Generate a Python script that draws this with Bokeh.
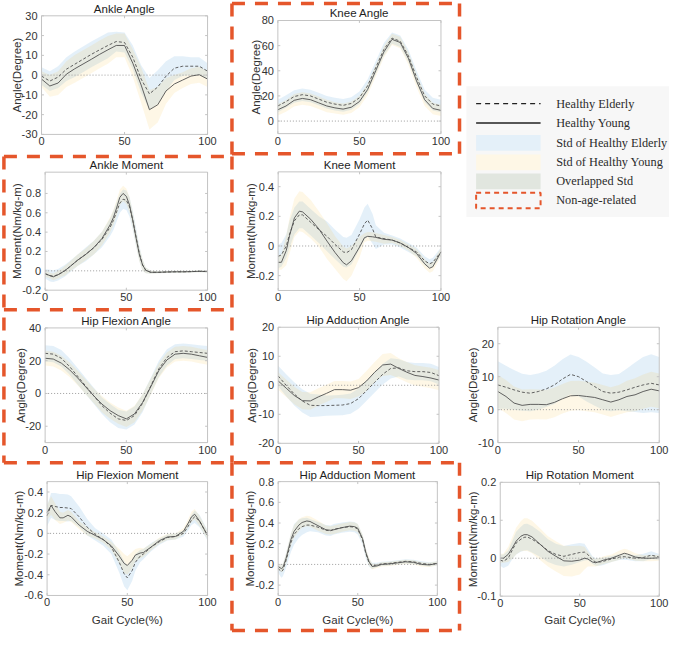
import math
import numpy as np
from bokeh.plotting import figure
from bokeh.models import Range1d
from bokeh.embed import file_html
from bokeh.resources import INLINE
from bokeh.core.properties import value

# ---------------------------------------------------------------- data
X21 = [0, 5, 10, 15, 20, 25, 30, 35, 40, 45, 50, 55, 60, 65, 70, 75, 80, 85, 90, 95, 100]
XTICKS = [0, 50, 100]

# Ankle Angle
AA_X = X21
AA_YOUNG = [-2, -5.5, -4, 0.5, 3.2, 5.6, 8, 10.5, 12.8, 15, 15, 6, -5, -17.5, -15, -8, -4.5, -2.5, -0.5, 0.2, -2]
AA_ELDER = [-0.5, -3, -1, 3, 5.5, 8, 10.5, 12.8, 15, 17, 16.5, 9, -2, -9.5, -6, -0.5, 3.5, 4.5, 4.5, 4.5, 2]
AA_SD_E = [4.5, 5, 5.5, 6, 6.5, 6.5, 6.5, 6.5, 6.5, 5, 5, 6, 7, 8, 8.5, 7.5, 6, 5, 4.5, 4.5, 4]
AA_SD_Y = [4, 5.5, 6, 6.5, 7, 7, 7, 7, 7, 6, 6, 7, 9, 10, 9, 6.5, 4.5, 4, 4, 4, 4]

# Knee Angle
KA_X = X21
KA_YOUNG = [9, 12, 16.5, 18, 17, 14.5, 12, 10.5, 9.5, 11, 15.5, 25, 40, 55, 65, 62.5, 50, 32, 17, 10, 8.5]
KA_ELDER = [12, 15.5, 19.5, 21, 20, 17.5, 15, 13.5, 12.5, 14, 18.5, 28, 42.5, 57, 66, 63.5, 52, 35, 20, 13.5, 12]
KA_SD_E = [5, 5, 5, 5, 5, 5, 5, 5, 5, 5, 5, 5, 5, 5, 4.5, 4.5, 5, 5, 5, 5, 5]
KA_SD_Y = [4.5, 4.5, 5, 5, 5, 5, 5, 4.5, 4.5, 4.5, 4.5, 4.5, 4.5, 4.5, 4.5, 4.5, 5, 5, 5, 4.5, 4.5]

# Ankle Moment
AM_X = [0, 3, 5, 8, 10, 12, 15, 20, 25, 30, 35, 40, 42, 44, 46, 48, 50, 52, 54, 56, 58, 60, 62, 65, 70, 75, 80, 85, 90, 95, 100]
AM_YOUNG = [-0.03, -0.05, -0.062, -0.04, -0.02, 0.0, 0.04, 0.11, 0.17, 0.24, 0.335, 0.475, 0.55, 0.65, 0.76, 0.8, 0.77, 0.68, 0.52, 0.34, 0.17, 0.06, 0.005, -0.015, -0.015, -0.012, -0.01, -0.01, -0.008, -0.005, -0.008]
AM_ELDER = [-0.03, -0.05, -0.055, -0.04, -0.02, 0.0, 0.04, 0.11, 0.17, 0.24, 0.325, 0.45, 0.52, 0.61, 0.7, 0.74, 0.73, 0.66, 0.52, 0.35, 0.18, 0.06, 0.005, -0.015, -0.015, -0.012, -0.01, -0.01, -0.008, -0.005, -0.008]
AM_SD_E = [0.05, 0.06, 0.06, 0.06, 0.06, 0.06, 0.06, 0.06, 0.07, 0.07, 0.08, 0.09, 0.1, 0.1, 0.1, 0.1, 0.1, 0.1, 0.1, 0.1, 0.08, 0.06, 0.03, 0.015, 0.01, 0.01, 0.01, 0.01, 0.01, 0.01, 0.01]
AM_SD_Y = [0.03, 0.03, 0.035, 0.04, 0.04, 0.05, 0.05, 0.06, 0.06, 0.07, 0.07, 0.08, 0.08, 0.08, 0.08, 0.08, 0.08, 0.08, 0.08, 0.08, 0.07, 0.06, 0.03, 0.015, 0.01, 0.01, 0.01, 0.01, 0.01, 0.01, 0.01]

# Knee Moment
KM_X = [0, 2, 5, 7, 10, 13, 15, 20, 25, 30, 35, 40, 42, 45, 50, 53, 55, 58, 60, 65, 70, 75, 80, 85, 90, 93, 95, 100]
KM_YOUNG = [-0.11, -0.11, -0.03, 0.07, 0.19, 0.235, 0.23, 0.18, 0.115, 0.033, -0.045, -0.113, -0.127, -0.1, -0.007, 0.056, 0.065, 0.062, 0.058, 0.045, 0.04, 0.02, -0.01, -0.05, -0.12, -0.15, -0.14, -0.04]
KM_ELDER = [-0.07, -0.06, 0.0, 0.08, 0.17, 0.21, 0.21, 0.16, 0.11, 0.065, 0.01, -0.04, -0.045, -0.025, 0.08, 0.15, 0.175, 0.115, 0.06, 0.05, 0.04, 0.02, -0.01, -0.04, -0.1, -0.12, -0.11, -0.04]
KM_SD_E = [0.08, 0.08, 0.08, 0.09, 0.09, 0.09, 0.09, 0.09, 0.09, 0.1, 0.1, 0.1, 0.1, 0.1, 0.1, 0.11, 0.11, 0.1, 0.08, 0.04, 0.03, 0.03, 0.03, 0.03, 0.03, 0.03, 0.03, 0.03]
KM_SD_Y = [0.05, 0.05, 0.1, 0.12, 0.13, 0.135, 0.135, 0.13, 0.12, 0.12, 0.11, 0.11, 0.11, 0.1, 0.07, 0.03, 0.03, 0.03, 0.03, 0.03, 0.02, 0.02, 0.02, 0.03, 0.03, 0.03, 0.03, 0.03]

# Hip Flexion Angle
HFA_X = X21
HFA_YOUNG = [21.5, 21, 18.5, 14.5, 9.5, 4, -1.5, -6.5, -10.5, -13.5, -15.5, -12.5, -5.5, 4, 14, 20.5, 24, 24.5, 24, 23, 22]
HFA_ELDER = [24.5, 24, 21.5, 16.5, 10.5, 4.5, -1.5, -7.5, -12, -15.5, -16.5, -13.5, -6, 4.5, 15, 22, 25.5, 26, 25.5, 25, 24.5]
HFA_SD_E = [5, 5, 5, 5, 5, 5, 5, 5, 5.5, 5.5, 5.5, 5.5, 5.5, 5, 5, 5, 4.5, 4.5, 4.5, 4.5, 4.5]
HFA_SD_Y = [4.5, 4.5, 4.5, 4.5, 4.5, 4.5, 4.5, 5, 5, 5, 5, 5, 5, 5, 4.5, 4.5, 4.5, 4.5, 4.5, 4.5, 4.5]

# Hip Adduction Angle
HAA_X = X21
HAA_YOUNG = [1.5, -1, -3.5, -5.3, -5.4, -4, -2.8, -1.5, -1.5, -1.7, -0.8, 1.5, 4.5, 7, 7.3, 5.8, 4.5, 3.4, 3, 2.5, 1.8]
HAA_ELDER = [3.2, 0, -3, -5.4, -6.9, -7, -7, -6.9, -6.8, -6.3, -4.6, -1.8, 1, 3.8, 5.8, 6, 5, 4.7, 4.7, 4.4, 3.3]
HAA_SD_E = [3.5, 3.8, 4, 4, 4, 3.8, 3.5, 3.5, 3.5, 3.5, 3.5, 3.5, 3.5, 3.5, 3.5, 3, 3, 3, 3, 3, 3]
HAA_SD_Y = [3, 3, 3, 3, 3, 3, 3, 3, 3, 3, 3, 3.5, 3.5, 3.8, 3.8, 3.5, 3.5, 3.5, 3.5, 3.5, 3.5]

# Hip Rotation Angle
HRA_X = X21
HRA_YOUNG = [5.5, 4, 2, 1.3, 1.6, 1.6, 1.5, 2.2, 3.3, 4.2, 4.3, 4, 3.7, 3, 2.3, 3, 4, 4.5, 5.5, 6.2, 5.7]
HRA_ELDER = [7.5, 6.8, 6, 5.3, 5, 5.5, 6.3, 7.5, 9.3, 10.7, 10, 8.5, 7, 5.5, 5, 5.3, 6, 6.8, 7.5, 8, 7.5]
HRA_SD_E = [7.2, 6.5, 6, 5.6, 5.5, 5.5, 5.5, 5.8, 6, 6, 6, 6, 5.8, 5.5, 5.5, 5.5, 6.5, 7.5, 8.5, 8.8, 8.5]
HRA_SD_Y = [5, 5, 5, 4.8, 4.6, 4.5, 4.5, 4.5, 4.5, 4.5, 4.5, 4.5, 4.5, 4.5, 4.5, 4.5, 4.8, 5, 5.2, 5.3, 5.3]

# Hip Flexion Moment
HFM_X = [0, 2.5, 5, 8, 10, 13, 15, 20, 25, 30, 35, 40, 45, 48, 50, 53, 55, 58, 60, 65, 70, 75, 80, 85, 88, 90, 92, 95, 100]
HFM_YOUNG = [0.2, 0.27, 0.21, 0.15, 0.15, 0.175, 0.16, 0.08, 0.02, -0.02, -0.06, -0.12, -0.22, -0.29, -0.31, -0.26, -0.21, -0.19, -0.185, -0.13, -0.07, -0.035, -0.03, 0.02, 0.1, 0.16, 0.185, 0.12, -0.02]
HFM_ELDER = [0.17, 0.27, 0.26, 0.25, 0.25, 0.245, 0.24, 0.16, 0.06, -0.01, -0.06, -0.13, -0.28, -0.39, -0.43, -0.36, -0.28, -0.22, -0.2, -0.13, -0.08, -0.04, -0.03, 0.0, 0.07, 0.13, 0.16, 0.12, -0.02]
HFM_SD_E = [0.1, 0.12, 0.13, 0.13, 0.13, 0.13, 0.12, 0.1, 0.08, 0.06, 0.06, 0.07, 0.1, 0.12, 0.12, 0.1, 0.08, 0.06, 0.05, 0.04, 0.03, 0.03, 0.03, 0.03, 0.04, 0.05, 0.06, 0.06, 0.05]
HFM_SD_Y = [0.07, 0.09, 0.08, 0.06, 0.05, 0.05, 0.05, 0.04, 0.04, 0.03, 0.03, 0.04, 0.07, 0.09, 0.09, 0.08, 0.06, 0.05, 0.04, 0.03, 0.03, 0.03, 0.03, 0.03, 0.04, 0.05, 0.05, 0.05, 0.04]

# Hip Adduction Moment
HAM_X = [0, 2, 3, 5, 8, 10, 13, 15, 18, 20, 25, 30, 33, 35, 40, 45, 48, 50, 53, 55, 57, 59, 62, 65, 70, 75, 80, 85, 90, 95, 100]
HAM_YOUNG = [-0.02, -0.04, -0.03, 0.06, 0.24, 0.32, 0.38, 0.405, 0.42, 0.415, 0.375, 0.335, 0.33, 0.335, 0.355, 0.37, 0.365, 0.35, 0.25, 0.12, 0.03, -0.02, -0.015, 0.0, 0.005, 0.015, 0.025, 0.02, 0.0, -0.005, 0.01]
HAM_ELDER = [-0.04, -0.07, -0.055, 0.04, 0.21, 0.29, 0.345, 0.365, 0.38, 0.38, 0.36, 0.33, 0.325, 0.34, 0.355, 0.365, 0.36, 0.34, 0.24, 0.11, 0.02, -0.015, -0.005, 0.005, 0.01, 0.02, 0.03, 0.025, 0.01, 0.0, 0.01]
HAM_SD_E = [0.04, 0.06, 0.06, 0.07, 0.09, 0.1, 0.09, 0.08, 0.07, 0.06, 0.05, 0.05, 0.05, 0.05, 0.05, 0.05, 0.05, 0.05, 0.05, 0.05, 0.04, 0.03, 0.02, 0.02, 0.02, 0.02, 0.02, 0.02, 0.02, 0.02, 0.02]
HAM_SD_Y = [0.03, 0.03, 0.04, 0.05, 0.06, 0.06, 0.06, 0.05, 0.05, 0.05, 0.05, 0.04, 0.04, 0.04, 0.04, 0.04, 0.04, 0.04, 0.04, 0.04, 0.04, 0.03, 0.02, 0.02, 0.02, 0.02, 0.02, 0.02, 0.02, 0.02, 0.02]

# Hip Rotation Moment
HRM_X = [0, 2, 5, 8, 10, 13, 15, 17, 20, 25, 30, 35, 40, 45, 50, 53, 55, 58, 60, 63, 65, 70, 75, 78, 80, 85, 90, 95, 100]
HRM_YOUNG = [0.0, 0.0, 0.01, 0.03, 0.045, 0.058, 0.062, 0.062, 0.056, 0.037, 0.018, 0.005, -0.007, -0.008, -0.005, 0.0, -0.002, -0.01, -0.012, -0.008, -0.005, 0.0, 0.008, 0.013, 0.011, 0.003, 0.0, 0.0, 0.001]
HRM_ELDER = [-0.005, -0.008, 0.0, 0.025, 0.04, 0.05, 0.055, 0.056, 0.05, 0.037, 0.02, 0.01, 0.005, 0.01, 0.015, 0.016, 0.01, -0.005, -0.01, -0.01, -0.008, -0.002, 0.003, 0.004, 0.003, 0.0, 0.002, 0.008, 0.003]
HRM_SD_E = [0.015, 0.018, 0.02, 0.025, 0.03, 0.033, 0.035, 0.035, 0.035, 0.033, 0.03, 0.028, 0.027, 0.027, 0.025, 0.022, 0.015, 0.01, 0.01, 0.01, 0.01, 0.008, 0.008, 0.008, 0.008, 0.008, 0.01, 0.01, 0.008]
HRM_SD_Y = [0.012, 0.012, 0.02, 0.03, 0.035, 0.04, 0.043, 0.043, 0.043, 0.042, 0.04, 0.04, 0.04, 0.04, 0.038, 0.03, 0.02, 0.012, 0.01, 0.01, 0.01, 0.01, 0.012, 0.012, 0.012, 0.01, 0.008, 0.008, 0.008]

TITLES = ["Ankle Angle", "Knee Angle", "Ankle Moment", "Knee Moment", "Hip Flexion Angle",
          "Hip Adduction Angle", "Hip Rotation Angle", "Hip Flexion Moment",
          "Hip Adduction Moment", "Hip Rotation Moment"]
YLABEL_ANGLE = "Angle(Degree)"
YLABEL_MOMENT = "Moment(Nm/kg-m)"
XLABEL = "Gait Cycle(%)"
LEGEND_LABELS = ["Healthy Elderly", "Healthy Young", "Std of Healthy Elderly",
                 "Std of Healthy Young", "Overlapped Std", "Non-age-related"]

YLIMS = [(-30, 30), (-10, 80), (-0.2, 1.02), (-0.3, 0.5), (-30, 40),
         (-20, 20), (-10, 25), (-0.6, 0.5), (-0.3, 0.8), (-0.1, 0.2)]
YTICKS = [[-30, -20, -10, 0, 10, 20, 30], [0, 20, 40, 60, 80], [-0.2, 0, 0.2, 0.4, 0.6, 0.8],
          [-0.2, 0, 0.2, 0.4], [-20, 0, 20, 40], [-20, -10, 0, 10, 20], [-10, 0, 10, 20],
          [-0.6, -0.4, -0.2, 0, 0.2, 0.4], [-0.2, 0, 0.2, 0.4, 0.6, 0.8], [-0.1, 0, 0.1, 0.2]]

SERIES = [
    (AA_X, AA_YOUNG, AA_ELDER, AA_SD_Y, AA_SD_E),
    (KA_X, KA_YOUNG, KA_ELDER, KA_SD_Y, KA_SD_E),
    (AM_X, AM_YOUNG, AM_ELDER, AM_SD_Y, AM_SD_E),
    (KM_X, KM_YOUNG, KM_ELDER, KM_SD_Y, KM_SD_E),
    (HFA_X, HFA_YOUNG, HFA_ELDER, HFA_SD_Y, HFA_SD_E),
    (HAA_X, HAA_YOUNG, HAA_ELDER, HAA_SD_Y, HAA_SD_E),
    (HRA_X, HRA_YOUNG, HRA_ELDER, HRA_SD_Y, HRA_SD_E),
    (HFM_X, HFM_YOUNG, HFM_ELDER, HFM_SD_Y, HFM_SD_E),
    (HAM_X, HAM_YOUNG, HAM_ELDER, HAM_SD_Y, HAM_SD_E),
    (HRM_X, HRM_YOUNG, HRM_ELDER, HRM_SD_Y, HRM_SD_E),
]
IS_ANGLE = [True, True, False, False, True, True, True, False, False, False]
HAS_XLABEL = [False] * 7 + [True] * 3

# ---------------------------------------------------------------- layout (page pixels, y down)
PAGE_W, PAGE_H = 685, 649
# frame boxes: left, right, top, bottom
FRAMES = [(42, 212, 15.7, 137.3), (284, 451, 20.5, 136.5),
          (45.7, 212, 176, 297), (284.3, 451, 175.7, 297.3),
          (45.7, 212, 335.7, 453.3), (284.3, 449, 335, 454), (509.3, 674.5, 335, 453.3),
          (47.7, 212, 493.3, 610), (284.3, 447.3, 493.3, 610), (511.7, 674.5, 494, 610.7)]
YLABEL_DX = [25, 22.3, 29, 27.6, 25, 27, 25.3, 28.4, 29.3, 27.7]
XLABEL_Y = 635

FONT = value("Liberation Sans")
SERIF = value("Liberation Serif")
ELD_FILL, YNG_FILL, BAND_ALPHA = "#1e82cd", "#f7bc2f", 0.12
LINE_C = "#505050"
FRAME_C = "#c4c4c4"
RED = "#e5562b"


def fy(y):
    return PAGE_H - y


def fmt(v):
    return f"{v:g}"


p = figure(width=669, height=633, x_range=Range1d(0, PAGE_W), y_range=Range1d(0, PAGE_H),
           output_backend="svg", toolbar_location=None, min_border=0,
           x_axis_location=None, y_axis_location=None)
p.grid.visible = False
p.outline_line_color = None
p.background_fill_color = "white"
p.border_fill_color = "white"

for i in range(10):
    L, R, T, B = FRAMES[i]
    y0, y1 = YLIMS[i]
    xs, my, me, sy, se = [np.array(a, dtype=float) for a in SERIES[i]]
    sub = p.subplot(x_source=Range1d(0, 100), y_source=Range1d(y0, y1),
                    x_target=Range1d(L, R), y_target=Range1d(fy(B), fy(T)))
    sub.varea(x=xs, y1=me - se, y2=me + se, fill_color=ELD_FILL, fill_alpha=BAND_ALPHA)
    sub.varea(x=xs, y1=my - sy, y2=my + sy, fill_color=YNG_FILL, fill_alpha=BAND_ALPHA)
    sub.line(x=[xs[0], xs[-1]], y=[0, 0], line_color="#9c9c9c", line_dash="1 2", line_width=1)
    sub.line(x=xs, y=my, line_color=LINE_C, line_width=0.9)
    sub.line(x=xs, y=me, line_color=LINE_C, line_width=0.9, line_dash="3 2")
    sub.quad(left=XTICKS[0], right=XTICKS[-1], bottom=y0, top=y1,
             fill_color=None, line_color=FRAME_C, line_width=1)
    # inward ticks
    yt = YTICKS[i]
    n = len(yt)
    tx = 2.5 * 100 / (R - L)
    ty = 2.5 * (y1 - y0) / (B - T)
    sub.segment(x0=[0] * n, y0=yt, x1=[tx] * n, y1=yt, line_color=FRAME_C, line_width=1)
    sub.segment(x0=[100] * n, y0=yt, x1=[100 - tx] * n, y1=yt, line_color=FRAME_C, line_width=1)
    m = len(XTICKS)
    sub.segment(x0=XTICKS, y0=[y0] * m, x1=XTICKS, y1=[y0 + ty] * m, line_color=FRAME_C, line_width=1)
    sub.segment(x0=XTICKS, y0=[y1] * m, x1=XTICKS, y1=[y1 - ty] * m, line_color=FRAME_C, line_width=1)
    # tick labels
    sub.text(x=[0] * n, y=yt, text=[fmt(v) for v in yt], x_offset=-4,
             text_align="right", text_baseline="middle", text_font=FONT,
             text_font_size="11px", text_color="#333333")
    sub.text(x=XTICKS, y=[y0] * m, text=[fmt(v) for v in XTICKS], y_offset=3,
             text_align="center", text_baseline="top", text_font=FONT,
             text_font_size="11px", text_color="#333333")
    # title, y label, x label
    p.text(x=[(L + R) / 2], y=[fy(T)], text=[TITLES[i]], y_offset=-1,
           text_align="center", text_baseline="bottom", text_font=FONT,
           text_font_size="11.5px", text_color="#1e1e1e")
    p.text(x=[L - YLABEL_DX[i]], y=[fy((T + B) / 2)],
           text=[YLABEL_ANGLE if IS_ANGLE[i] else YLABEL_MOMENT], angle=math.pi / 2,
           text_align="center", text_baseline="middle", text_font=FONT,
           text_font_size="11.5px", text_color="#333333")
    if HAS_XLABEL[i]:
        p.text(x=[(L + R) / 2], y=[fy(XLABEL_Y)], text=[XLABEL],
               text_align="center", text_baseline="middle", text_font=FONT,
               text_font_size="11.5px", text_color="#333333")

# ---------------------------------------------------------------- red dashed outlines
SEG_X = [[237, 470], [470, 470], [237, 470], [237, 237],
         [3.5, 237], [3.5, 3.5], [3.5, 237], [237, 237], [3.5, 470],
         [237, 237], [470, 470], [237, 470]]
SEG_Y = [[3, 3], [3, 157], [157, 157], [3, 160],
         [160, 160], [160, 474], [317, 317], [160, 474], [474, 474],
         [474, 646], [474, 646], [646, 646]]
p.multi_line(xs=SEG_X, ys=[[fy(v) for v in s] for s in SEG_Y],
             line_color=RED, line_width=3.5, line_dash="13 10")

# ---------------------------------------------------------------- legend
LEG_ROWS = [105.7, 125.5, 146, 166, 185.5, 205]
SW_L, SW_R, TXT_X = 487, 553, 569
p.quad(left=477, right=PAGE_W, top=fy(88), bottom=fy(222), fill_color="#f7f7f7", line_color=None)
p.line(x=[SW_L, SW_R], y=[fy(LEG_ROWS[0])] * 2, line_color="#222222", line_width=1.2, line_dash="5 4")
p.line(x=[SW_L, SW_R], y=[fy(LEG_ROWS[1])] * 2, line_color="#222222", line_width=1.5)
for r, col in zip(LEG_ROWS[2:5], ["#e4f0f9", "#fef7e6", "#e1e6df"]):
    p.quad(left=SW_L, right=SW_R, top=fy(r - 8), bottom=fy(r + 8), fill_color=col, line_color=None)
p.quad(left=SW_L, right=SW_R, top=fy(LEG_ROWS[5] - 8), bottom=fy(LEG_ROWS[5] + 8),
       fill_color=None, line_color=RED, line_width=2, line_dash="5 4")
p.text(x=[TXT_X] * 6, y=[fy(r) for r in LEG_ROWS], text=LEGEND_LABELS,
       text_align="left", text_baseline="middle", text_font=SERIF,
       text_font_size="12.3px", text_color="#2b2b2b")

open("out.html", "w").write(file_html(p, INLINE))
